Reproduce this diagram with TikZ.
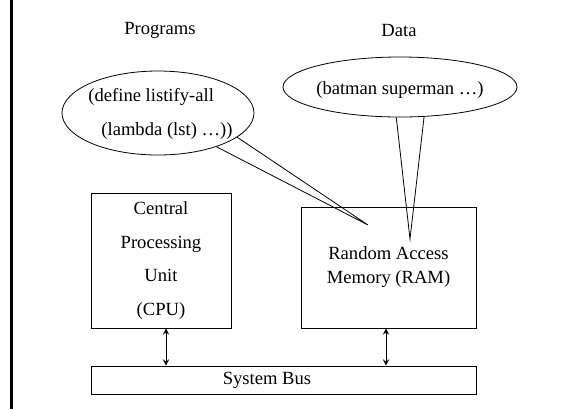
\documentclass[tikz,border=0pt]{standalone}
\usepackage{fontspec}
\setmainfont{Liberation Serif}
\usetikzlibrary{shapes.geometric}
\begin{document}
\begin{tikzpicture}[x=0.5pt, y=-0.5pt, >=stealth,
        every node/.style={font=\fontsize{9.3}{17}\selectfont},
        box/.style={draw, rectangle, inner sep=0pt, align=center},
        blob/.style={draw, ellipse, inner sep=0pt}]
        \useasboundingbox (0,0) rectangle (570,409);
        \draw[line width=1.2pt] (11.5,0) -- (11.5,409);
        % headings
        \node (progs) at (160,30) {Programs};
        \node (data) at (399,30) {Data};
        % thought bubbles
        \node[blob, minimum width=96pt, minimum height=42pt] (prog) at (158,113) {};
        \node[anchor=base west, inner sep=0pt] (progA) at (88,101) {(define listify-all};
        \node[anchor=base west, inner sep=0pt] (progB) at (101,135) {(lambda (lst) \ldots))};
        \node[blob, minimum width=117pt, minimum height=30pt] (vals) at (400,87) {};
        \node (valsA) at (400,90) {(batman superman \ldots)};
        \coordinate (progtip) at (368,225);
        \coordinate (valstip) at (410,239);
        \draw (prog.-17) -- (progtip) -- (prog.-30);
        \draw (vals.-97.6) -- (valstip) -- (vals.-51.3);
        % hardware
        \node[box, minimum width=70pt, minimum height=67.5pt, font=\fontsize{9.3}{16.8}\selectfont] (cpu) at (161,260.5)
            {Central\\Processing\\Unit\\(CPU)};
        \node[box, minimum width=87.5pt, minimum height=60.5pt, font=\fontsize{9.3}{12}\selectfont] (ram) at (388.5,267.5)
            {Random Access\\Memory (RAM)};
        \node[box, minimum width=192.5pt, minimum height=14pt] (bus) at (283.5,380) {System Bus\hspace*{16.5pt}};
        \draw[<->] ([xshift=2.5pt]cpu.south) -- ([xshift=2.5pt]cpu.south |- bus.north);
        \draw[<->] ([xshift=-1.25pt]ram.south) -- ([xshift=-1.25pt]ram.south |- bus.north);
    \end{tikzpicture}
\end{document}
